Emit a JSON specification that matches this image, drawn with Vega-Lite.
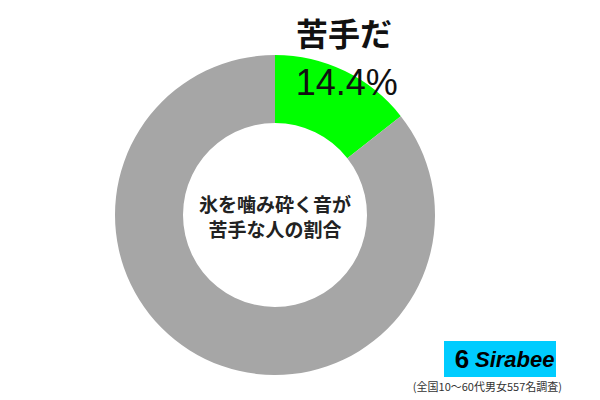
{
  "$schema": "https://vega.github.io/schema/vega-lite/v6.json",
  "width": 550,
  "height": 370,
  "padding": {"left": 0, "top": 30, "right": 50, "bottom": 0},
  "autosize": {"type": "none"},
  "background": "white",
  "view": {"stroke": null},
  "datasets": {
    "pie": [
      {"category": "苦手だ", "value": 14.4, "label": "14.4%"},
      {"category": "その他", "value": 85.6, "label": ""}
    ],
    "center": [
      {"text": "氷を噛み砕く音が\n苦手な人の割合"}
    ],
    "brand": [
      {"logo": "Sirabee", "icon": "6", "note": "(全国10〜60代男女557名調査)"}
    ]
  },
  "layer": [
    {
      "data": {"name": "pie"},
      "mark": {"type": "arc", "outerRadius": 160, "innerRadius": 92, "stroke": null},
      "encoding": {
        "theta": {"field": "value", "type": "quantitative", "stack": true},
        "order": {"field": "value", "type": "quantitative", "sort": "ascending"},
        "color": {
          "field": "category",
          "type": "nominal",
          "scale": {"domain": ["苦手だ", "その他"], "range": ["#00ff00", "#a6a6a6"]},
          "legend": null
        }
      }
    },
    {
      "data": {"name": "pie"},
      "mark": {"type": "text", "radius": 199, "dx": -18, "fontSize": 32, "fontWeight": "bold", "font": "Noto Sans CJK JP", "color": "#111111", "baseline": "middle", "align": "center"},
      "encoding": {
        "theta": {"field": "value", "type": "quantitative", "stack": true},
        "order": {"field": "value", "type": "quantitative", "sort": "ascending"},
        "text": {"condition": {"test": "datum.category === '苦手だ'", "field": "category"}, "value": ""}
      }
    },
    {
      "data": {"name": "pie"},
      "mark": {"type": "text", "radius": 146, "dx": 8, "fontSize": 36, "font": "Liberation Sans", "color": "#111111", "baseline": "middle", "align": "center"},
      "encoding": {
        "theta": {"field": "value", "type": "quantitative", "stack": true},
        "order": {"field": "value", "type": "quantitative", "sort": "ascending"},
        "text": {"field": "label", "type": "nominal"}
      }
    },
    {
      "data": {"name": "center"},
      "mark": {"type": "text", "fontSize": 19, "fontWeight": "bold", "font": "Noto Sans CJK JP", "color": "#222222", "lineHeight": 25, "baseline": "middle", "align": "center", "lineBreak": "\n", "dy": -9},
      "encoding": {
        "text": {"field": "text", "type": "nominal"}
      }
    },
    {
      "data": {"name": "brand"},
      "mark": {"type": "rect", "color": "#00ccff"},
      "encoding": {
        "x": {"value": 444},
        "x2": {"value": 556},
        "y": {"value": 311},
        "y2": {"value": 347}
      }
    },
    {
      "data": {"name": "brand"},
      "mark": {"type": "text", "fontSize": 26, "fontWeight": "bold", "font": "Liberation Sans", "color": "#000000", "align": "center", "baseline": "middle"},
      "encoding": {
        "x": {"value": 462},
        "y": {"value": 330},
        "text": {"field": "icon", "type": "nominal"}
      }
    },
    {
      "data": {"name": "brand"},
      "mark": {"type": "text", "fontSize": 22, "fontWeight": "bold", "fontStyle": "italic", "font": "Liberation Sans", "color": "#000000", "align": "left", "baseline": "middle"},
      "encoding": {
        "x": {"value": 475},
        "y": {"value": 330},
        "text": {"field": "logo", "type": "nominal"}
      }
    },
    {
      "data": {"name": "brand"},
      "mark": {"type": "text", "fontSize": 11, "font": "Noto Sans CJK JP", "color": "#333333", "align": "right", "baseline": "middle"},
      "encoding": {
        "x": {"value": 562},
        "y": {"value": 358},
        "text": {"field": "note", "type": "nominal"}
      }
    }
  ]
}
